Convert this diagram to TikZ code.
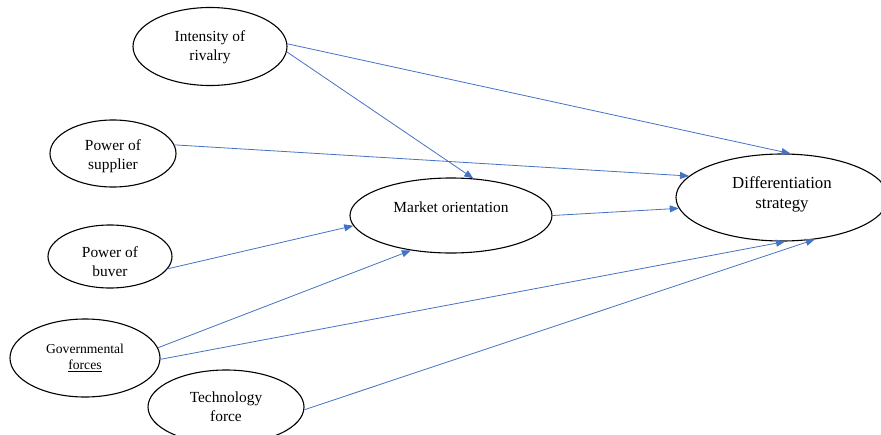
\documentclass[tikz,border=0pt]{standalone}
\usepackage{fontspec}
\setmainfont{Liberation Serif}
\usetikzlibrary{arrows.meta,shapes.geometric}
\definecolor{arrowblue}{HTML}{4472C4}
\tikzset{
  oval/.style={draw=black, line width=1.1pt, ellipse, inner sep=0pt},
  intext/.style={align=center, inner sep=0pt, font=\fontsize{15.4}{18.7}\selectfont},
  link/.style={draw=arrowblue, line width=0.8pt, -{Triangle[length=9pt,width=7pt]}}
}
\begin{document}
\begin{tikzpicture}[x=1pt,y=-1pt]
\useasboundingbox (0,0) rectangle (881,434);
\clip (0,0) rectangle (881,434);
\node[oval, minimum width=154pt, minimum height=78pt,
  label={[intext, yshift=-1pt]center:Intensity of\\rivalry}] (riv) at (210,46.5) {};
\node[oval, minimum width=126pt, minimum height=67pt,
  label={[intext, yshift=-3pt]center:Power of\\supplier}] (sup) at (113,153.5) {};
\node[oval, minimum width=124pt, minimum height=63pt,
  label={[intext, yshift=-5pt]center:Power of\\buver}] (buy) at (110,256.5) {};
\node[oval, minimum width=150pt, minimum height=78pt,
  label={[intext, font=\fontsize{13.6}{15.5}\selectfont]center:Governmental\\\underline{forces}}] (gov) at (85,358) {};
\node[oval, minimum width=156pt, minimum height=74pt,
  label={[intext, yshift=0.5pt]center:Technology\\force}] (tech) at (226,407) {};
\node[oval, minimum width=202pt, minimum height=75pt,
  label={[intext, yshift=8pt]center:Market orientation}] (mkt) at (451,215.5) {};
\node[oval, minimum width=212pt, minimum height=87pt,
  label={[intext, yshift=3pt, font=\fontsize{16.8}{20.7}\selectfont]center:Differentiation\\strategy}] (diff) at (782,197.5) {};

\draw[link] (riv.2) -- (diff.79);
\draw[link] (riv.-4) -- (mkt.59);
\draw[link] (sup.8) -- (diff.167);
\draw[link] (mkt.east) -- (diff.186);
\draw[link] (buy.-12) -- (mkt.186);
\draw[link] (gov.8) -- (mkt.221);
\draw[link] (gov.-1) -- (diff.-86);
\draw[link] (tech.-2) -- (diff.-52);
\end{tikzpicture}
\end{document}
